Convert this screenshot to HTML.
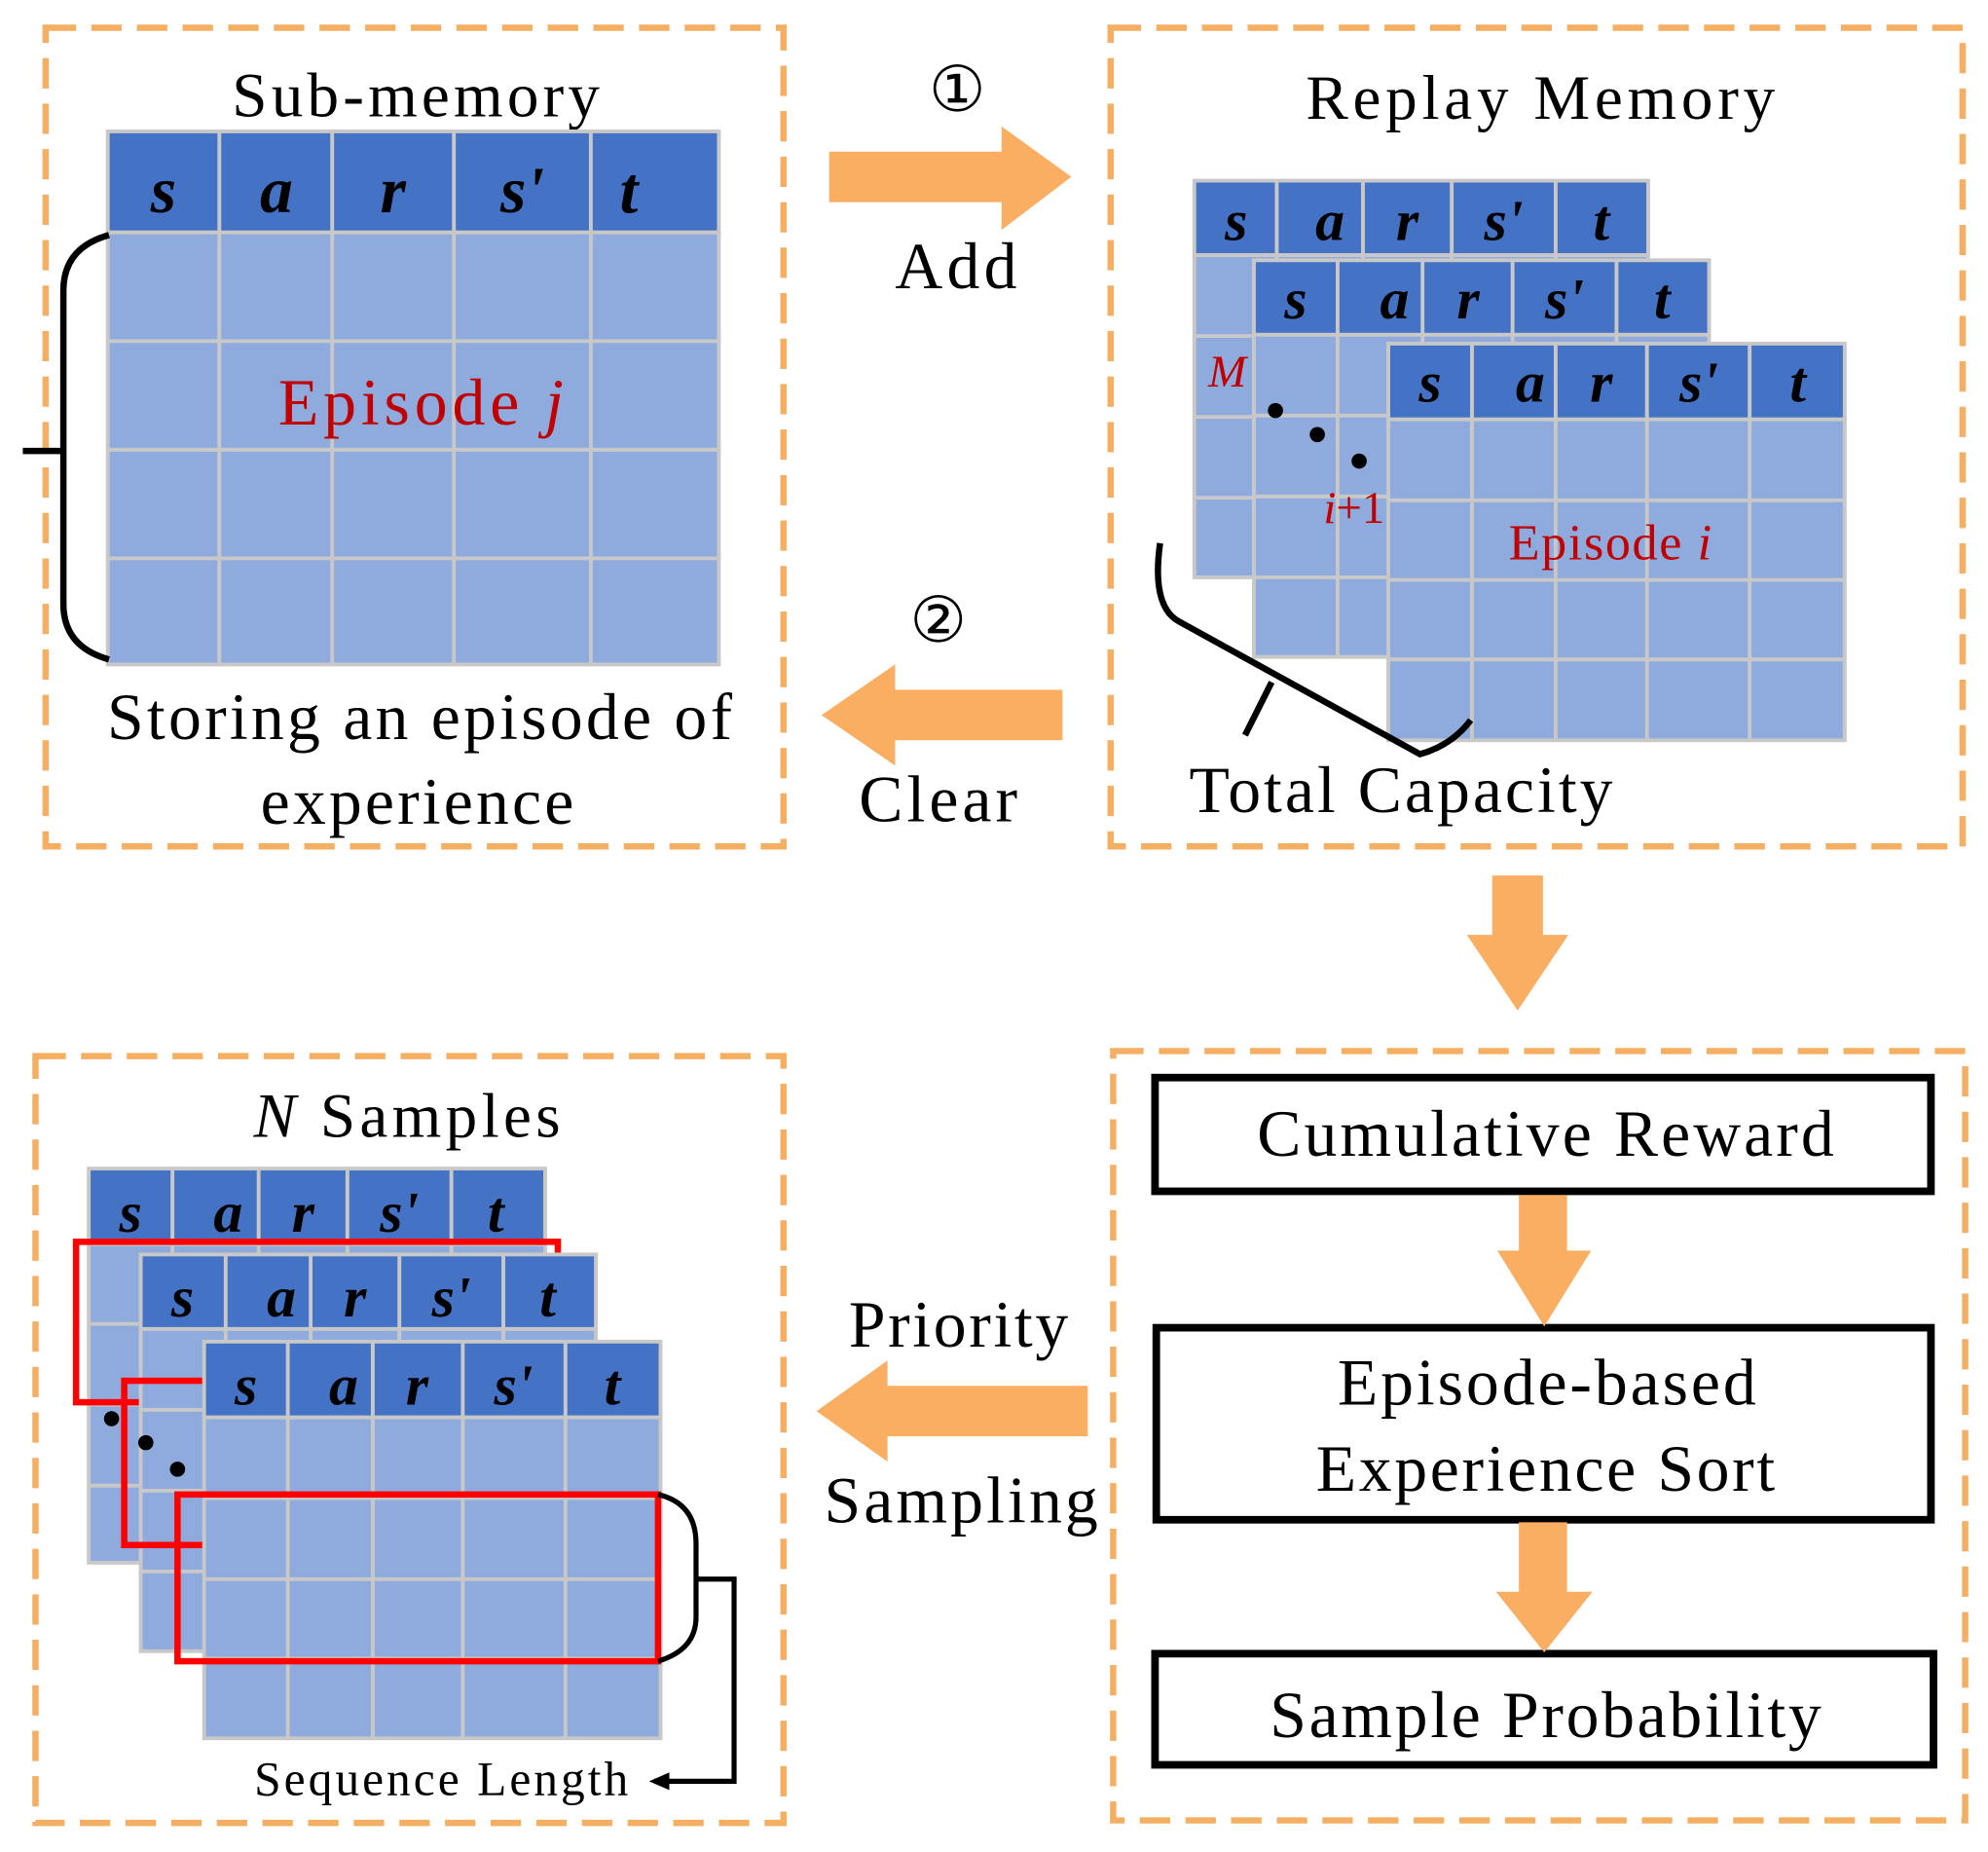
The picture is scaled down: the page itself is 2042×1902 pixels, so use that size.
<!DOCTYPE html>
<html><head><meta charset="utf-8"><style>
html,body{margin:0;padding:0;background:#fff;}
svg{display:block;}
text{font-family:"Liberation Serif",serif;}
.h{font-weight:bold;font-style:italic;fill:#000;text-anchor:middle;}
.t{text-anchor:middle;fill:#000;}
.red{fill:#C00000;}
</style></head><body>
<svg width="2042" height="1902" viewBox="0 0 1568 1466" preserveAspectRatio="none" xmlns="http://www.w3.org/2000/svg">
<defs>
<marker id="ah" markerWidth="16" markerHeight="14" refX="12" refY="7" orient="auto" markerUnits="userSpaceOnUse"><path d="M0,0 L16,7 L0,14 z" fill="#000"/></marker>
</defs>
<g fill="none" stroke="#F5AF63" stroke-width="5" stroke-dasharray="24 12">
<rect x="36" y="22" width="582" height="648"/>
<rect x="876" y="22" width="672" height="648"/>
<rect x="28" y="836" width="590" height="607"/>
<rect x="878" y="832" width="672" height="609"/>
</g>

<!-- Sub-memory -->
<text class="t" x="328" y="92" font-size="50" textLength="290" lengthAdjust="spacing">Sub-memory</text>
<g stroke="#C8C8C8" stroke-width="3">
<rect x="85" y="104" width="482" height="80" fill="#4472C4"/>
<rect x="85" y="184" width="482" height="342" fill="#8FAADC"/>
<path d="M173,104V526M262,104V526M358,104V526M466,104V526M85,270H567M85,356H567M85,442H567" fill="none"/>
</g>
<g font-size="52"><text class="h" x="129" y="168">s</text><text class="h" x="218" y="168">a</text><text class="h" x="310" y="168">r</text><text class="h" x="412" y="168">s'</text><text class="h" x="496" y="168">t</text></g>
<text class="t red" x="332" y="336" font-size="52" textLength="225" lengthAdjust="spacing">Episode <tspan font-style="italic">j</tspan></text>
<path d="M86,186 Q50,196 50,230 V478 Q50,512 86,522 M18,357 H50" fill="none" stroke="#000" stroke-width="5"/>
<text class="t" x="331" y="585" font-size="52" textLength="493" lengthAdjust="spacing">Storing an episode of</text>
<text class="t" x="329" y="652" font-size="52" textLength="247" lengthAdjust="spacing">experience</text>

<!-- Add / Clear arrows -->
<path d="M654,120H790V100L845,140L790,182V160H654Z" fill="#F9AE62"/>
<text class="t" x="755" y="88" font-size="50">①</text>
<text class="t" x="754" y="228" font-size="52" textLength="96" lengthAdjust="spacing">Add</text>
<path d="M838,546H706V526L648,566L706,606V586H838Z" fill="#F9AE62"/>
<text class="t" x="740" y="508" font-size="50">②</text>
<text class="t" x="740" y="650" font-size="52" textLength="125" lengthAdjust="spacing">Clear</text>

<!-- Replay Memory -->
<text class="t" x="1215" y="94" font-size="50" textLength="370" lengthAdjust="spacing">Replay Memory</text>
<g stroke="#C8C8C8" stroke-width="3">
<rect x="942" y="143" width="358" height="59" fill="#4472C4"/>
<rect x="942" y="202" width="358" height="255" fill="#8FAADC"/>
<path d="M1007,143V457M1075,143V457M1145,143V457M1227,143V457M942,266H1300M942,330H1300M942,394H1300" fill="none"/>
<rect x="989" y="206" width="359" height="59" fill="#4472C4"/>
<rect x="989" y="265" width="359" height="255" fill="#8FAADC"/>
<path d="M1055,206V520M1122,206V520M1193,206V520M1275,206V520M989,329H1348M989,393H1348M989,457H1348" fill="none"/>
<rect x="1095" y="272" width="360" height="60" fill="#4472C4"/>
<rect x="1095" y="332" width="360" height="254" fill="#8FAADC"/>
<path d="M1161,272V586M1227,272V586M1299,272V586M1380,272V586M1095,396H1455M1095,459H1455M1095,522H1455" fill="none"/>
</g>
<g font-size="46">
<text class="h" x="975" y="190">s</text><text class="h" x="1049" y="190">a</text><text class="h" x="1110" y="190">r</text><text class="h" x="1186" y="190">s'</text><text class="h" x="1263" y="190">t</text>
<text class="h" x="1022" y="252">s</text><text class="h" x="1100" y="252">a</text><text class="h" x="1158" y="252">r</text><text class="h" x="1234" y="252">s'</text><text class="h" x="1311" y="252">t</text>
<text class="h" x="1128" y="318">s</text><text class="h" x="1207" y="318">a</text><text class="h" x="1263" y="318">r</text><text class="h" x="1340" y="318">s'</text><text class="h" x="1418" y="318">t</text>
</g>
<text x="968" y="306" class="t red" font-size="36" font-style="italic">M</text>
<g fill="#000"><circle cx="1006" cy="325" r="6"/><circle cx="1039" cy="344" r="6"/><circle cx="1072" cy="365" r="6"/></g>
<text x="1068" y="414" class="t red" font-size="36"><tspan font-style="italic">i</tspan>+1</text>
<text x="1270" y="443" class="t red" font-size="40" textLength="160" lengthAdjust="spacing">Episode <tspan font-style="italic">i</tspan></text>
<path d="M915,430 Q908,480 930,492 L1120,597 Q1145,590 1160,570 M1003,540 L982,582" fill="none" stroke="#000" stroke-width="5"/>
<text class="t" x="1105" y="643" font-size="52" textLength="334" lengthAdjust="spacing">Total Capacity</text>

<!-- down arrow -->
<path d="M1177,693H1217V740H1237L1197,800L1157,740H1177Z" fill="#F9AE62"/>

<!-- right-bottom box -->
<g fill="#fff" stroke="#000" stroke-width="6">
<rect x="911" y="853" width="612" height="90"/>
<rect x="912" y="1051" width="611" height="152"/>
<rect x="911" y="1309" width="614" height="88"/>
</g>
<text class="t" x="1219" y="915" font-size="52" textLength="455" lengthAdjust="spacing">Cumulative Reward</text>
<text class="t" x="1220" y="1112" font-size="52" textLength="330" lengthAdjust="spacing">Episode-based</text>
<text class="t" x="1219" y="1180" font-size="52" textLength="362" lengthAdjust="spacing">Experience Sort</text>
<text class="t" x="1219" y="1375" font-size="52" textLength="435" lengthAdjust="spacing">Sample Probability</text>
<path d="M1198,946H1236V990H1255L1218,1050L1181,990H1198Z" fill="#F9AE62"/>
<path d="M1198,1205H1236V1260H1256L1218,1308L1180,1260H1198Z" fill="#F9AE62"/>

<!-- Priority Sampling arrow -->
<path d="M858,1097H700V1077L644,1117L700,1157V1137H858Z" fill="#F9AE62"/>
<text class="t" x="756" y="1066" font-size="52" textLength="173" lengthAdjust="spacing">Priority</text>
<text class="t" x="758" y="1205" font-size="52" textLength="216" lengthAdjust="spacing">Sampling</text>

<!-- N Samples -->
<text class="t" x="321" y="900" font-size="50" textLength="242" lengthAdjust="spacing"><tspan font-style="italic">N</tspan> Samples</text>
<g stroke="#C8C8C8" stroke-width="3">
<rect x="70" y="925" width="360" height="60" fill="#4472C4"/>
<rect x="70" y="985" width="360" height="252" fill="#8FAADC"/>
<path d="M136,925V1237M204,925V1237M274,925V1237M356,925V1237M70,1048H430M70,1112H430M70,1176H430" fill="none"/>
</g>
<rect x="60" y="983" width="380" height="127" fill="none" stroke="#FF0000" stroke-width="5"/>
<g stroke="#C8C8C8" stroke-width="3">
<rect x="111" y="993" width="359" height="59" fill="#4472C4"/>
<rect x="111" y="1052" width="359" height="255" fill="#8FAADC"/>
<path d="M178,993V1307M245,993V1307M315,993V1307M397,993V1307M111,1116H470M111,1180H470M111,1244H470" fill="none"/>
</g>
<rect x="98" y="1093" width="380" height="130" fill="none" stroke="#FF0000" stroke-width="5"/>
<g stroke="#C8C8C8" stroke-width="3">
<rect x="161" y="1062" width="360" height="60" fill="#4472C4"/>
<rect x="161" y="1122" width="360" height="254" fill="#8FAADC"/>
<path d="M227,1062V1376M294,1062V1376M365,1062V1376M446,1062V1376M161,1186H521M161,1250H521M161,1313H521" fill="none"/>
</g>
<rect x="140" y="1183" width="379" height="132" fill="none" stroke="#FF0000" stroke-width="5"/>
<g font-size="46">
<text class="h" x="103" y="975">s</text><text class="h" x="180" y="975">a</text><text class="h" x="239" y="975">r</text><text class="h" x="315" y="975">s'</text><text class="h" x="391" y="975">t</text>
<text class="h" x="144" y="1042">s</text><text class="h" x="222" y="1042">a</text><text class="h" x="280" y="1042">r</text><text class="h" x="356" y="1042">s'</text><text class="h" x="432" y="1042">t</text>
<text class="h" x="194" y="1112">s</text><text class="h" x="271" y="1112">a</text><text class="h" x="329" y="1112">r</text><text class="h" x="405" y="1112">s'</text><text class="h" x="483" y="1112">t</text>
</g>
<g fill="#000"><circle cx="88" cy="1123" r="6"/><circle cx="115" cy="1142" r="6"/><circle cx="140" cy="1163" r="6"/></g>
<path d="M519,1183 Q549,1190 549,1222 V1280 Q549,1306 519,1315" fill="none" stroke="#000" stroke-width="4"/>
<path d="M549,1250H579V1410H516" fill="none" stroke="#000" stroke-width="4" marker-end="url(#ah)"/>
<text class="t" x="348" y="1421" font-size="38" textLength="295" lengthAdjust="spacing">Sequence Length</text>
</svg>
</body></html>
